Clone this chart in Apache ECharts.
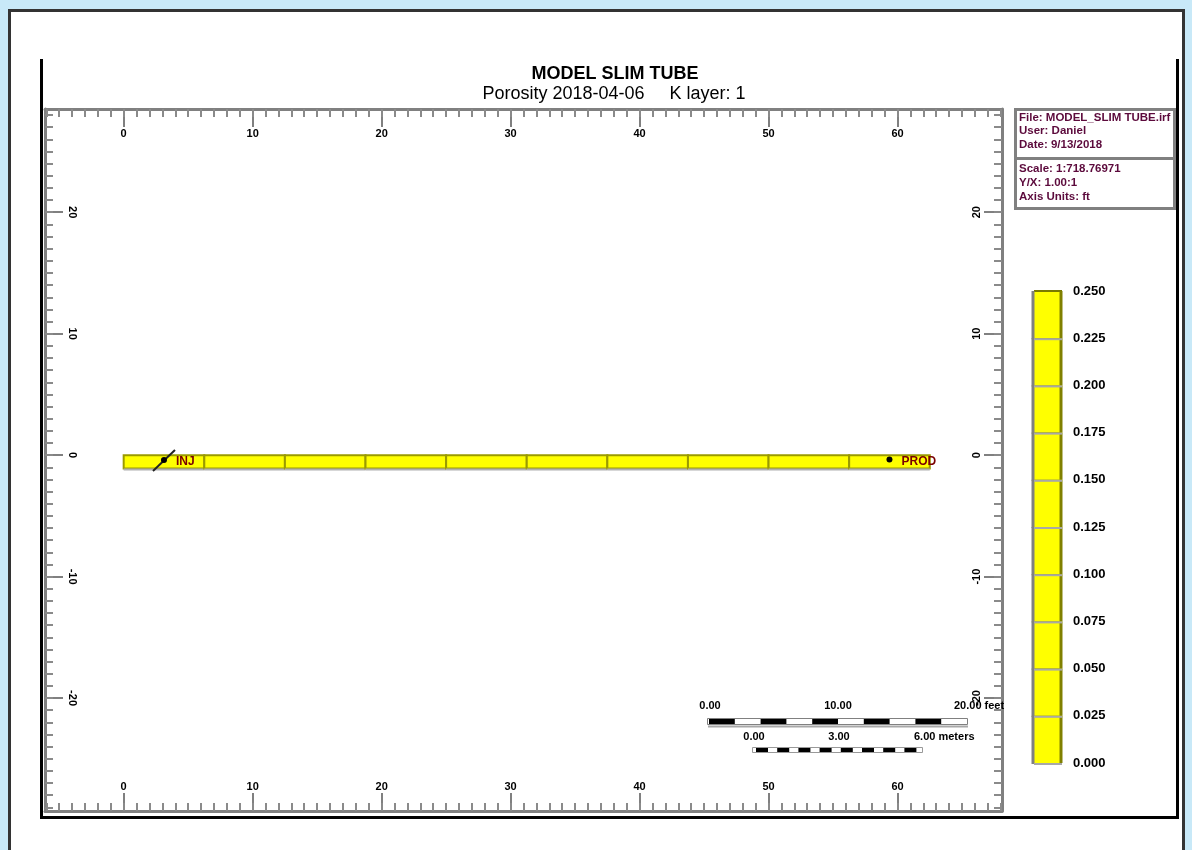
<!DOCTYPE html>
<html>
<head>
<meta charset="utf-8">
<script src="https://cdn.jsdelivr.net/npm/echarts@6/dist/echarts.min.js"></script>
<style>
html, body { margin: 0; padding: 0; background: #c8e9f8; }
#main { width: 1192px; height: 850px; }
</style>
</head>
<body>
<div id="main"></div>
<script>
// ruler labels
var xMajor = [0, 10, 20, 30, 40, 50, 60];
var yMajor = [-20, -10, 0, 10, 20];

// slim tube cells (I direction), K layer 1
var cellEdges = [0, 6.25, 12.5, 18.75, 25, 31.25, 37.5, 43.75, 50, 56.25, 62.5];
var cellPorosity = [0.25, 0.25, 0.25, 0.25, 0.25, 0.25, 0.25, 0.25, 0.25, 0.25];
var cellTop = 0, cellBottom = -1.1;

// wells
var wellNames = ['INJ', 'PROD'];
var wellX = [3.125, 59.375];
var wellY = [-0.4, -0.35];
var wellKind = ['inj', 'prod'];

// colour scale
var colorLevels = [0, 0.025, 0.05, 0.075, 0.1, 0.125, 0.15, 0.175, 0.2, 0.225, 0.25];
var levelColors = ['#ffff00', '#ffff00', '#ffff00', '#ffff00', '#ffff00',
                   '#ffff00', '#ffff00', '#ffff00', '#ffff00', '#ffff00'];

var FONT = 'Liberation Sans';

function colorFor(v) {
  for (var i = 0; i < levelColors.length; i++) {
    if (v <= colorLevels[i + 1]) return levelColors[i];
  }
  return levelColors[levelColors.length - 1];
}

var minorX = [], minorY = [];
for (var i = -6; i <= 68; i++) minorX.push(i);
for (var j = -29; j <= 28; j++) minorY.push(j);

var rulerLine = { show: true, onZero: false, lineStyle: { color: '#808080', width: 3 } };
var lbl = { fontSize: 11, fontWeight: 'bold', color: '#000', fontFamily: FONT };

function ruler(pos, major, minor, rng, margin, rotate) {
  var major_ = {
    type: 'value', position: pos, min: rng[0], max: rng[1], gridIndex: 0,
    axisLine: rulerLine,
    axisTick: { show: true, inside: true, length: 18, customValues: major, lineStyle: { color: '#808080', width: 2 } },
    axisLabel: Object.assign({ show: true, inside: true, margin: margin, rotate: rotate || 0, customValues: major }, lbl),
    splitLine: { show: false }
  };
  var minor_ = {
    type: 'value', position: pos, min: rng[0], max: rng[1], gridIndex: 0,
    axisLine: { show: false, onZero: false },
    axisTick: { show: true, inside: true, length: 8, customValues: minor, lineStyle: { color: '#8a8a8a', width: 2 } },
    axisLabel: { show: false },
    splitLine: { show: false }
  };
  return [major_, minor_];
}

var xr = [-6.1, 68.1], yr = [-29.3, 28.5];
var xAxes = ruler('top', xMajor, minorX, xr, 19).concat(ruler('bottom', xMajor, minorX, xr, 19));
var yAxes = ruler('left', yMajor, minorY, yr, 22, -90).concat(ruler('right', yMajor, minorY, yr, 20, 90));

// colour bar axes
xAxes.push({ type: 'value', gridIndex: 1, min: 0, max: 1, show: false });
yAxes.push({
  type: 'value', gridIndex: 1, min: 0, max: 0.25, position: 'right',
  axisLine: { show: false }, axisTick: { show: false }, splitLine: { show: false },
  axisLabel: { margin: 11, customValues: colorLevels, fontSize: 13, fontWeight: 'bold', color: '#000', fontFamily: FONT,
    formatter: function (v) { return v.toFixed(3); } }
});

var cellData = [];
for (var c = 0; c < cellPorosity.length; c++) cellData.push([cellEdges[c], cellEdges[c + 1], cellPorosity[c]]);
var wellData = [];
for (var w = 0; w < wellNames.length; w++) wellData.push([wellX[w], wellY[w], w]);
var barData = [];
for (var b = 0; b < levelColors.length; b++) barData.push([colorLevels[b], colorLevels[b + 1], b]);

var graphics = [
  { type: 'rect', z: -10, shape: { x: 9.5, y: 10.5, width: 1174, height: 870 }, style: { fill: '#fff', stroke: '#333', lineWidth: 3 } },
  { type: 'polyline', z: 10, shape: { points: [[41.5, 59], [41.5, 817.5], [1177.5, 817.5], [1177.5, 59]] }, style: { stroke: '#000', lineWidth: 3, fill: null } },
  // info box
  { type: 'rect', shape: { x: 1015.5, y: 109.5, width: 159, height: 99 }, style: { fill: '#fff', stroke: '#808080', lineWidth: 3 } },
  { type: 'line', shape: { x1: 1015, y1: 158.5, x2: 1175, y2: 158.5 }, style: { stroke: '#808080', lineWidth: 3 } }
];
var infoLines = [['File: MODEL_SLIM TUBE.irf', 118], ['User: Daniel', 131], ['Date: 9/13/2018', 145],
                 ['Scale: 1:718.76971', 169], ['Y/X: 1.00:1', 183], ['Axis Units: ft', 197]];
infoLines.forEach(function (l) {
  graphics.push({ type: 'text', style: { text: l[0], x: 1019, y: l[1], fill: '#5c0a3c', font: 'bold 11.5px ' + FONT, verticalAlign: 'middle' } });
});
// scale bars
graphics.push({ type: 'rect', shape: { x: 707.5, y: 718.5, width: 260, height: 6 }, style: { fill: '#fff', stroke: '#808080', lineWidth: 1 } });
graphics.push({ type: 'line', shape: { x1: 708, y1: 726.5, x2: 968, y2: 726.5 }, style: { stroke: '#a8a8a8', lineWidth: 2 } });
for (var s = 0; s < 10; s += 2) {
  graphics.push({ type: 'rect', shape: { x: 709 + s * 25.8, y: 719, width: 25.8, height: 5 }, style: { fill: '#000' } });
}
graphics.push({ type: 'rect', shape: { x: 752.5, y: 747.5, width: 170, height: 5 }, style: { fill: '#fff', stroke: '#999', lineWidth: 1 } });
for (var t = 0; t < 8; t++) {
  graphics.push({ type: 'rect', shape: { x: 756 + t * 21.2, y: 748, width: 12, height: 4 }, style: { fill: '#000' } });
}
var scaleTexts = [['0.00', 710, 706, 'center'], ['10.00', 838, 706, 'center'], ['20.00 feet', 954, 706, 'left'],
                  ['0.00', 754, 737, 'center'], ['3.00', 839, 737, 'center'], ['6.00 meters', 914, 737, 'left']];
scaleTexts.forEach(function (l) {
  graphics.push({ type: 'text', z: 100, style: { text: l[0], x: l[1], y: l[2], fill: '#000', font: 'bold 11px ' + FONT, align: l[3], verticalAlign: 'middle' } });
});

var option = {
  backgroundColor: '#c8e9f8',
  animation: false,
  title: [
    { text: 'MODEL SLIM TUBE', left: 610, top: 60, textAlign: 'center',
      textStyle: { fontSize: 18, fontWeight: 'bold', color: '#000', fontFamily: FONT } },
    { text: 'Porosity 2018-04-06     K layer: 1', left: 609, top: 80, textAlign: 'center',
      textStyle: { fontSize: 18, fontWeight: 'normal', color: '#000', fontFamily: FONT } }
  ],
  grid: [
    { left: 45, right: 190, top: 109, bottom: 39 },
    { left: 1034, top: 291, width: 28, height: 472 }
  ],
  xAxis: xAxes,
  yAxis: yAxes,
  graphic: graphics,
  series: [
    {
      type: 'custom', xAxisIndex: 0, yAxisIndex: 0, data: cellData,
      renderItem: function (params, api) {
        var p0 = api.coord([api.value(0), cellTop]);
        var p1 = api.coord([api.value(1), cellBottom]);
        return { type: 'group', children: [
          { type: 'rect', shape: { x: p0[0], y: p0[1], width: p1[0] - p0[0], height: p1[1] - p0[1] },
            style: { fill: colorFor(api.value(2)), stroke: '#9a9a00', lineWidth: 2 } },
          { type: 'line', shape: { x1: p0[0], y1: p1[1] + 1, x2: p1[0], y2: p1[1] + 1 }, style: { stroke: '#b0b0b0', lineWidth: 2 } }
        ] };
      }
    },
    {
      type: 'custom', xAxisIndex: 0, yAxisIndex: 0, data: wellData, z: 5,
      renderItem: function (params, api) {
        var p = api.coord([api.value(0), api.value(1)]);
        var k = api.value(2);
        var kids = [];
        if (wellKind[k] === 'inj') {
          kids.push({ type: 'line', shape: { x1: p[0] - 11, y1: p[1] + 11, x2: p[0] + 11, y2: p[1] - 10 }, style: { stroke: '#222', lineWidth: 2 } });
        }
        kids.push({ type: 'circle', shape: { cx: p[0], cy: p[1], r: 3 }, style: { fill: '#000' } });
        kids.push({ type: 'text', style: { text: wellNames[k], x: p[0] + 12, y: p[1] + 2, fill: '#7a0000', font: 'bold 12px ' + FONT, verticalAlign: 'middle' } });
        return { type: 'group', children: kids };
      }
    },
    {
      type: 'custom', xAxisIndex: 4, yAxisIndex: 4, data: barData,
      renderItem: function (params, api) {
        var p0 = api.coord([0, api.value(1)]);
        var p1 = api.coord([1, api.value(0)]);
        return { type: 'group', children: [
          { type: 'rect', shape: { x: p0[0], y: p0[1], width: p1[0] - p0[0], height: p1[1] - p0[1] }, style: { fill: levelColors[api.value(2)] } },
          { type: 'line', shape: { x1: p0[0], y1: p0[1], x2: p1[0], y2: p0[1] }, style: { stroke: '#7a7a00', lineWidth: 2 } },
          { type: 'line', shape: { x1: p0[0] - 1, y1: p0[1], x2: p0[0] - 1, y2: p1[1] + 1 }, style: { stroke: '#808080', lineWidth: 3 } },
          { type: 'line', shape: { x1: p1[0] - 1, y1: p0[1], x2: p1[0] - 1, y2: p1[1] }, style: { stroke: '#808000', lineWidth: 3 } },
          { type: 'line', shape: { x1: p0[0], y1: p1[1] + 1, x2: p1[0], y2: p1[1] + 1 }, style: { stroke: '#a8a8a8', lineWidth: 2 } }
        ] };
      }
    }
  ]
};

var myChart = echarts.init(document.getElementById('main'));
myChart.setOption(option);
</script>
</body>
</html>
